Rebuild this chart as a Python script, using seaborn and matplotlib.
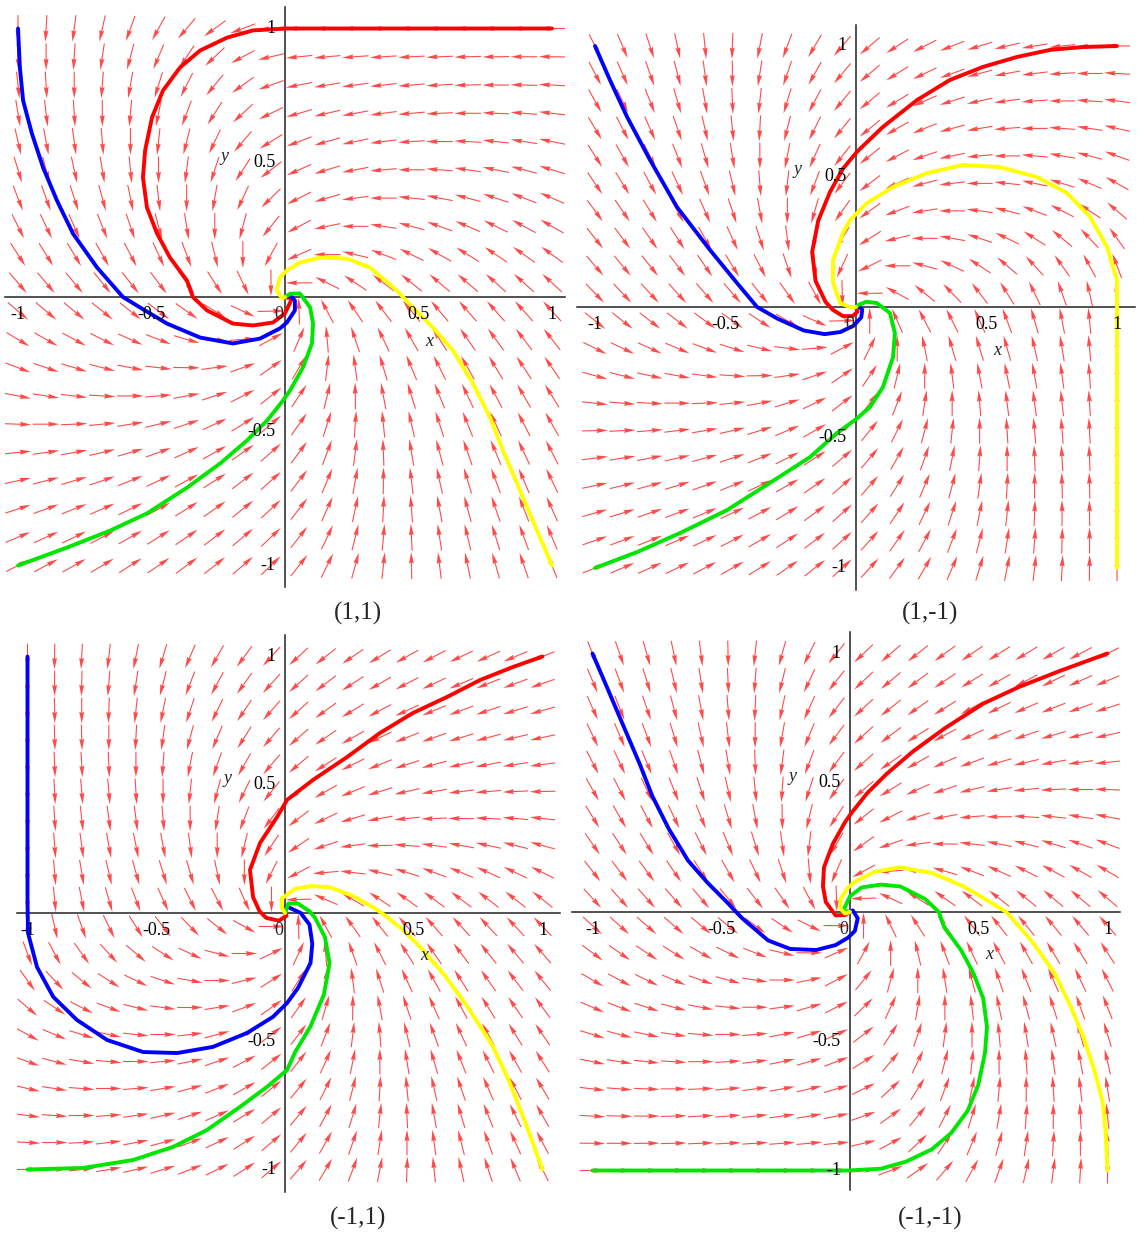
import numpy as np
import pandas as pd
import matplotlib
matplotlib.use("Agg")
import matplotlib.pyplot as plt
import seaborn as sns

sns.set_theme(style="white")
plt.rcParams['font.family'] = ['Liberation Serif', 'DejaVu Serif']

# panel parameters (a,b) and their captions
panel_params = [(1, 1), (1, -1), (-1, 1), (-1, -1)]
panel_titles = ["(1,1)", "(1,-1)", "(-1,1)", "(-1,-1)"]

# solution curves, one list per colour and panel
red_11 = [(1, 1), (0.5, 1), (0.007, 1.0), (-0.12, 0.993), (-0.217, 0.966), (-0.318, 0.918),
          (-0.393, 0.855), (-0.457, 0.769), (-0.498, 0.669), (-0.524, 0.546), (-0.532, 0.445),
          (-0.517, 0.333), (-0.479, 0.236), (-0.431, 0.147), (-0.367, 0.061), (-0.345, 0.0),
          (-0.292, -0.05), (-0.195, -0.099), (-0.12, -0.106), (-0.045, -0.095), (0.0, -0.061),
          (0.026, -0.006), (0, 0)]
blue_11 = [(-1, 1), (-0.993, 0.855), (-0.981, 0.732), (-0.948, 0.609), (-0.906, 0.482),
           (-0.854, 0.359), (-0.794, 0.236), (-0.704, 0.11), (-0.607, 0.0), (-0.543, -0.039),
           (-0.442, -0.099), (-0.318, -0.151), (-0.195, -0.173), (-0.094, -0.155),
           (-0.019, -0.117), (0.007, -0.095), (0.037, -0.05), (0.037, -0.013), (0.019, 0.006), (0, 0)]
green_11 = [(-1, -1), (-0.816, -0.933), (-0.655, -0.87), (-0.517, -0.806), (-0.367, -0.71),
            (-0.243, -0.62), (-0.142, -0.534), (-0.067, -0.46), (-0.007, -0.385), (0.019, -0.348),
            (0.067, -0.263), (0.101, -0.173), (0.105, -0.099), (0.094, -0.039), (0.056, 0.013),
            (0.02, 0.012), (0, 0)]
yellow_11 = [(1, -1), (0.944, -0.87), (0.88, -0.72), (0.816, -0.571), (0.768, -0.449),
             (0.704, -0.322), (0.629, -0.199), (0.554, -0.114), (0.479, -0.039), (0.419, 0.024),
             (0.318, 0.11), (0.232, 0.143), (0.131, 0.147), (0.056, 0.128), (0.007, 0.099),
             (-0.019, 0.073), (-0.03, 0.024), (-0.011, -0.006), (0, 0)]

red_1m = [(1, 1), (0.87, 0.996), (0.743, 0.985), (0.617, 0.958), (0.487, 0.92), (0.36, 0.87),
          (0.234, 0.793), (0.103, 0.69), (0.004, 0.595), (-0.05, 0.53), (-0.1, 0.44),
          (-0.145, 0.33), (-0.168, 0.21), (-0.155, 0.1), (-0.117, 0.02), (-0.09, -0.01),
          (-0.05, -0.035), (-0.013, -0.035), (0.006, -0.018), (0, 0)]
blue_1m = [(-1, 1), (-0.943, 0.87), (-0.877, 0.728), (-0.789, 0.563), (-0.686, 0.383),
           (-0.559, 0.218), (-0.456, 0.092), (-0.379, 0.0), (-0.3, -0.045), (-0.2, -0.09),
           (-0.12, -0.104), (-0.06, -0.096), (-0.01, -0.072), (0.02, -0.04), (0.024, -0.01),
           (0.01, 0.002), (0, 0)]
green_1m = [(-1, -1), (-0.839, -0.939), (-0.674, -0.866), (-0.494, -0.778), (-0.33, -0.674),
            (-0.176, -0.575), (-0.073, -0.483), (0.0, -0.43), (0.054, -0.383), (0.103, -0.307),
            (0.142, -0.192), (0.149, -0.1), (0.13, -0.023), (0.08, 0.015), (0.04, 0.02),
            (0.01, 0.008), (0, 0)]
yellow_1m = [(1, -1), (1, -0.5), (1, 0.0), (1, 0.103), (0.962, 0.23), (0.897, 0.345),
             (0.808, 0.437), (0.693, 0.498), (0.552, 0.536), (0.41, 0.544), (0.272, 0.513),
             (0.142, 0.46), (0.042, 0.398), (-0.023, 0.333), (-0.05, 0.284), (-0.088, 0.18),
             (-0.088, 0.092), (-0.061, 0.015), (-0.023, 0.0), (0, 0)]

red_m1 = [(1, 1), (0.885, 0.959), (0.757, 0.908), (0.629, 0.842), (0.497, 0.78), (0.369, 0.702),
          (0.241, 0.608), (0.109, 0.519), (0.008, 0.441), (-0.031, 0.374), (-0.097, 0.273),
          (-0.136, 0.168), (-0.124, 0.062), (-0.099, 0.007), (-0.073, -0.019), (-0.024, -0.03),
          (0.006, -0.011), (0, 0)]
blue_m1 = [(-1, 1), (-1, 0.5), (-1, 0.05), (-0.998, -0.078), (-0.963, -0.211), (-0.9, -0.327),
           (-0.808, -0.417), (-0.691, -0.495), (-0.551, -0.542), (-0.419, -0.546), (-0.28, -0.522),
           (-0.148, -0.468), (-0.047, -0.405), (0.008, -0.351), (0.05, -0.293), (0.099, -0.195),
           (0.106, -0.12), (0.095, -0.045), (0.061, 0.0), (0.006, 0.026), (0, 0)]
green_m1 = [(-1, -1), (-0.784, -0.994), (-0.59, -0.963), (-0.435, -0.912), (-0.303, -0.846),
            (-0.175, -0.756), (-0.07, -0.678), (0.008, -0.612), (0.039, -0.543), (0.099, -0.442),
            (0.151, -0.318), (0.173, -0.195), (0.155, -0.094), (0.117, -0.019), (0.095, 0.007),
            (0.05, 0.037), (0.013, 0.037), (0, 0)]
yellow_m1 = [(1, -1), (0.933, -0.816), (0.87, -0.655), (0.806, -0.517), (0.71, -0.367),
             (0.62, -0.243), (0.534, -0.142), (0.46, -0.067), (0.385, -0.007), (0.348, 0.019),
             (0.263, 0.067), (0.173, 0.101), (0.099, 0.105), (0.039, 0.094), (-0.013, 0.056),
             (-0.012, 0.02), (0, 0)]

red_mm = [(1, 1), (0.816, 0.933), (0.655, 0.87), (0.517, 0.806), (0.367, 0.71), (0.243, 0.62),
          (0.142, 0.534), (0.067, 0.46), (0.007, 0.385), (-0.019, 0.348), (-0.067, 0.263),
          (-0.101, 0.173), (-0.105, 0.099), (-0.094, 0.039), (-0.056, -0.013), (-0.02, -0.012), (0, 0)]
blue_mm = [(-1, 1), (-0.944, 0.87), (-0.88, 0.72), (-0.816, 0.571), (-0.768, 0.449),
           (-0.704, 0.322), (-0.629, 0.199), (-0.554, 0.114), (-0.479, 0.039), (-0.419, -0.024),
           (-0.318, -0.11), (-0.232, -0.143), (-0.131, -0.147), (-0.056, -0.128), (-0.007, -0.099),
           (0.019, -0.073), (0.03, -0.024), (0.011, 0.006), (0, 0)]
green_mm = [(-1, -1), (-0.5, -1), (-0.007, -1), (0.12, -0.993), (0.217, -0.966), (0.318, -0.918),
            (0.393, -0.855), (0.457, -0.769), (0.498, -0.669), (0.524, -0.546), (0.532, -0.445),
            (0.517, -0.333), (0.479, -0.236), (0.431, -0.147), (0.367, -0.061), (0.345, 0.0),
            (0.292, 0.05), (0.195, 0.099), (0.12, 0.106), (0.045, 0.095), (0.0, 0.061),
            (-0.026, 0.006), (0, 0)]
yellow_mm = [(1, -1), (0.993, -0.855), (0.981, -0.732), (0.948, -0.609), (0.906, -0.482),
             (0.854, -0.359), (0.794, -0.236), (0.704, -0.11), (0.607, 0.0), (0.543, 0.039),
             (0.442, 0.099), (0.318, 0.151), (0.195, 0.173), (0.094, 0.155), (0.019, 0.117),
             (-0.007, 0.095), (-0.037, 0.05), (-0.037, 0.013), (-0.019, -0.006), (0, 0)]

curves = [
    [red_11, blue_11, green_11, yellow_11],
    [red_1m, blue_1m, green_1m, yellow_1m],
    [red_m1, blue_m1, green_m1, yellow_m1],
    [red_mm, blue_mm, green_mm, yellow_mm],
]
curve_colors = ["#ff0000", "#0000ff", "#00e600", "#ffff00"]

x_tick_labels = ["-1", "-0.5", "0.5", "1"]
x_tick_values = [-1, -0.5, 0.5, 1]
y_tick_labels = ["1", "0.5", "-0.5", "-1"]
y_tick_values = [1, 0.5, -0.5, -1]


def field_11(x, y):
    # direction field of the (1,1) case (spiral with the straight run along y=1)
    u = -x - y + 1.2 * np.maximum(x, 0) * y
    v = x - y + y * (np.maximum(y, 0) - np.abs(x))
    return u, v


def field(x, y, a, b):
    # the other cases are the (1,1) picture turned about the origin
    phi = np.arctan2(b, a) - np.pi / 4
    c, s = np.cos(phi), np.sin(phi)
    u0, v0 = field_11(c * x + s * y, -s * x + c * y)
    return c * u0 - s * v0, s * u0 + c * v0


W, H = 1137, 1234
fig = plt.figure(figsize=(W / 100, H / 100), dpi=100)

# axes boxes in pixels (left, right, top, bottom) and the origin/scale
boxes = [
    (5, 565, 7, 587, 285, 297, 267, 268.5),
    (577, 1135, 25, 590, 856, 307, 261, 261),
    (17, 560, 635, 1192, 285, 913, 257.5, 256.5),
    (572, 1120, 632, 1190, 850, 912, 257.5, 258.5),
]
title_pos = [(358, 613), (930, 613), (358, 1218), (930, 1218)]

grid = np.linspace(-1, 1, 20)
GX, GY = np.meshgrid(grid, grid)
L = 0.1

for k, (a, b) in enumerate(panel_params):
    l, r, t, bt, ox, oy, sx, sy = boxes[k]
    ax = fig.add_axes([l / W, 1 - bt / H, (r - l) / W, (bt - t) / H])
    ax.set_xlim((l - ox) / sx, (r - ox) / sx)
    ax.set_ylim((oy - bt) / sy, (oy - t) / sy)
    ax.patch.set_alpha(0)

    U, V = field(GX, GY, a, b)
    n = np.hypot(U, V)
    n[n == 0] = 1
    ax.quiver(GX, GY, L * U / n, L * V / n, angles='xy', scale_units='xy', scale=1,
              pivot='middle', units='dots', width=1.1, headwidth=4.5, headlength=10.5,
              headaxislength=9.5, color='#ff2a2a', alpha=0.85, zorder=1)

    for pts, col in zip(curves[k], curve_colors):
        df = pd.DataFrame(pts, columns=['x', 'y'])
        sns.lineplot(data=df, x='x', y='y', sort=False, estimator=None, color=col,
                     linewidth=2.8, ax=ax, zorder=3)

    for side in ['top', 'right']:
        ax.spines[side].set_visible(False)
    for side in ['left', 'bottom']:
        ax.spines[side].set_position('zero')
        ax.spines[side].set_color('#222222')
        ax.spines[side].set_linewidth(1.1)
    ticks = [v for v in np.round(np.arange(-1, 1.01, 0.1), 1) if v != 0]
    ax.set_xticks(ticks)
    ax.set_yticks(ticks)
    ax.set_xticklabels([])
    ax.set_yticklabels([])
    ax.tick_params(direction='out', length=3, width=0.6, colors='#444444')
    ax.set_xlabel('')
    ax.set_ylabel('')

    for v, s in zip(x_tick_values, x_tick_labels):
        ax.text(v, -0.035, s, ha='center', va='top', fontsize=13, color='black')
    for v, s in zip(y_tick_values, y_tick_labels):
        ax.text(-0.035, v, s, ha='right', va='center', fontsize=13, color='black')
    ax.text(-0.008, -0.035, "0", ha='right', va='top', fontsize=13)
    ax.text(0.54, -0.165, "x", ha='center', va='center', fontsize=13, style='italic')
    ax.text(-0.225, 0.525, "y", ha='center', va='center', fontsize=13, style='italic')

    fig.text(title_pos[k][0] / W, 1 - title_pos[k][1] / H, panel_titles[k],
             ha='center', va='center', fontsize=18)

fig.savefig("out.png", dpi=100)
